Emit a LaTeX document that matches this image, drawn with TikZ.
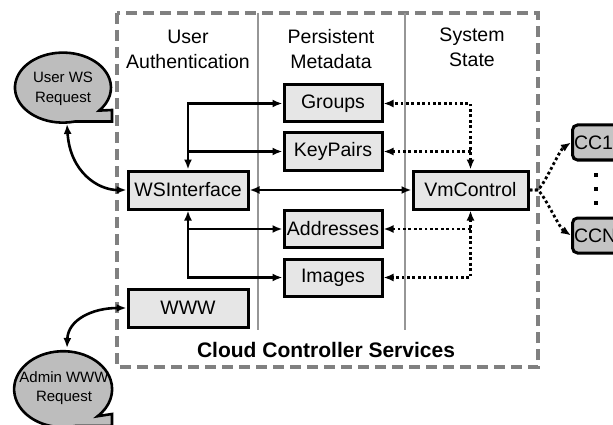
\documentclass[tikz,border=0pt]{standalone}
\usepackage{fontspec}
\setmainfont{Liberation Sans}
\usetikzlibrary{arrows.meta}
\definecolor{boxfill}{HTML}{E6E6E6}
\definecolor{bubfill}{HTML}{BDBDBD}
\definecolor{ccfill}{HTML}{C4C4C4}
\definecolor{framegray}{HTML}{808080}
\definecolor{sepgray}{HTML}{969696}
\begin{document}
\begin{tikzpicture}[x=1pt,y=-1pt,
  >={Latex[length=10pt,width=8pt]},
  mainfont/.style={font=\fontsize{19.5}{25}\selectfont},
  box/.style={draw=black, line width=3pt, fill=boxfill, minimum width=98pt,
    minimum height=37pt, inner sep=0pt, mainfont},
  widebox/.style={box, minimum width=120pt, minimum height=38pt},
  ccbox/.style={draw=black, line width=3pt, fill=ccfill, rounded corners=5pt,
    minimum height=35pt, text width=57pt, align=left, inner xsep=1.5pt, inner ysep=0pt, mainfont},
  header/.style={align=center, inner sep=0pt, mainfont},
  bubble/.style={draw=black, line width=2.6pt, fill=bubfill, line join=miter},
  bubtext/.style={align=center, inner sep=0pt, font=\fontsize{15}{19.5}\selectfont},
  conn/.style={line width=2.6pt},
  dotconn/.style={line width=2.8pt, dash pattern=on 2.8pt off 2.6pt},
  frame/.style={draw=framegray, line width=3.2pt, dash pattern=on 11pt off 6pt},
  sep/.style={draw=sepgray, line width=2.2pt}
]
\useasboundingbox (0,0) rectangle (613,425);

% outer dashed frame and separators
\draw[frame] (117,13) rectangle (538,367);
\draw[sep] (258,13) -- (258,330);
\draw[sep] (405,13) -- (405,330);

% headers
\node[header] (h1) at (188,49) {User\\Authentication};
\node[header] (h2) at (331,49) {Persistent\\Metadata};
\node[header] (h3) at (472,47) {System\\State};
\node[font=\bfseries\fontsize{21}{25}\selectfont, inner sep=0pt] (title) at (326,350) {Cloud Controller Services};

% boxes
\node[box] (groups) at (333,103.5) {Groups};
\node[box] (keypairs) at (333,151.5) {KeyPairs};
\node[box] (addresses) at (333,229) {Addresses};
\node[box] (images) at (333,277.5) {Images};
\node[widebox] (ws) at (188,190) {WSInterface};
\node[widebox] (www) at (188,308) {WWW};
\node[widebox, minimum width=115pt] (vm) at (470.5,190) {VmControl};
\node[ccbox, anchor=west] (cc1) at (571,142.5) {CC1};
\node[ccbox, anchor=west] (ccn) at (571,235.5) {CCN};

% dots between CC boxes
\foreach \yy in {175,189,203}
  \fill (594,\yy-2) rectangle (598,\yy+2);

% bubbles
\draw[bubble] (112,110) -- (112,121.5) -- (75,121.5)
  arc[start angle=75.5, end angle=401, x radius=48, y radius=35] -- cycle;
\node[bubtext] (ureq) at (63,89) {User WS\\Request};
\draw[bubble] (112,414) -- (112,426) -- (75.4,426)
  arc[start angle=75.5, end angle=405.3, x radius=49, y radius=38] -- cycle;
\node[bubtext] (areq) at (64,388) {Admin WWW\\Request};
\coordinate (ubot) at (67,124);
\coordinate (atop) at (67,348);

% solid connectors from WSInterface
\coordinate (jt) at (188,103.5);
\coordinate (jk) at (188,151.5);
\coordinate (ja) at (188,229);
\coordinate (jb) at (188,277.5);
\draw[conn,<->] (ws.north) -- (jt) -- (groups.west);
\draw[conn,->] (jk) -- (keypairs.west);
\draw[conn,<->] (ws.south) -- (jb) -- (images.west);
\draw[conn,->] (ja) -- (addresses.west);
\draw[conn,<->] (ws.east) -- (vm.west);

% dotted connectors from VmControl
\coordinate (dt) at (470.5,103.5);
\coordinate (dk) at (470.5,151.5);
\coordinate (da) at (470.5,229);
\coordinate (db) at (470.5,277.5);
\draw[dotconn,<->] (vm.north) -- (dt) -- (groups.east);
\draw[dotconn,->] (dk) -- (keypairs.east);
\draw[dotconn,<->] (vm.south) -- (db) -- (images.east);
\draw[dotconn,->] (da) -- (addresses.east);
\draw[dotconn,->] (vm.east) -- ++(8,0) .. controls +(6,-3) and +(-12,8) .. (cc1.west);
\draw[dotconn,->] (vm.east) -- ++(8,0) .. controls +(6,3) and +(-12,-8) .. (ccn.west);

% curved request connectors
\draw[conn,<->] (ubot) .. controls (70,172) and (98,190) .. (ws.west);
\draw[conn,<->] (www.west) .. controls (92,308) and (68,320) .. (atop);
\end{tikzpicture}
\end{document}
